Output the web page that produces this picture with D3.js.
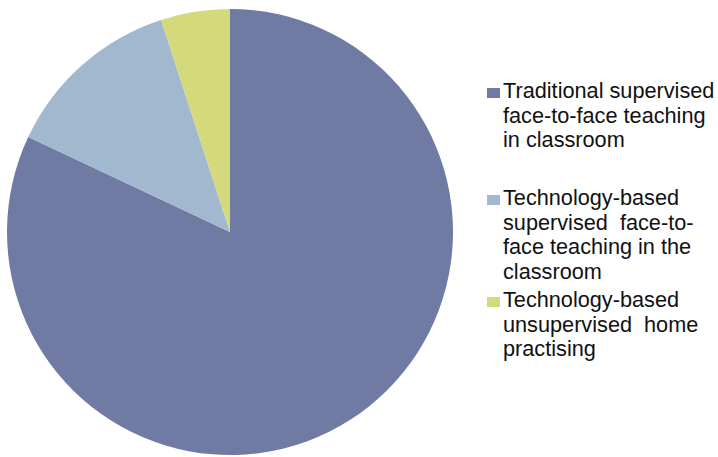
<!DOCTYPE html>
<html>
<head>
<meta charset="utf-8">
<script src="https://cdn.jsdelivr.net/npm/d3@7"></script>
<style>
  html, body { margin: 0; padding: 0; background: #ffffff; }
  svg { display: block; }
</style>
</head>
<body>
<svg id="chart" width="718" height="457"></svg>
<script>
// Share of teaching modes
const categories = [
  "Traditional supervised face-to-face teaching in classroom",
  "Technology-based supervised face-to-face teaching in the classroom",
  "Technology-based unsupervised home practising"
];
const values = [82, 13, 5];
const legendLines = [
  ["Traditional supervised", "face-to-face teaching", "in classroom"],
  ["Technology-based", "supervised  face-to-", "face teaching in the", "classroom"],
  ["Technology-based", "unsupervised  home", "practising"]
];
const colors = ["#6f7ba3", "#a2b8cf", "#d4da7b"];

const svg = d3.select("#chart");
const cx = 230, cy = 232, r = 223;

const pie = d3.pie().sort(null).value(d => d)(values);
const arc = d3.arc().innerRadius(0).outerRadius(r);

svg.append("g")
  .attr("transform", `translate(${cx},${cy})`)
  .selectAll("path")
  .data(pie)
  .join("path")
  .attr("d", arc)
  .attr("fill", (d, i) => colors[i]);

// Legend: first-line baselines of each entry
const legendBase = [98, 205, 307];
const lineH = 24.6;
const legend = svg.append("g")
  .attr("font-family", "Liberation Sans, Arial, sans-serif")
  .attr("font-size", 21.7)
  .attr("fill", "#111");

categories.forEach((c, i) => {
  const g = legend.append("g");
  g.append("rect")
    .attr("x", 487).attr("y", legendBase[i] - 10)
    .attr("width", 13).attr("height", 10)
    .attr("fill", colors[i]);
  g.append("text")
    .selectAll("tspan")
    .data(legendLines[i])
    .join("tspan")
    .attr("x", 503)
    .attr("y", (d, j) => legendBase[i] + j * lineH)
    .attr("xml:space", "preserve")
    .style("white-space", "pre")
    .text(d => d);
});
</script>
</body>
</html>
